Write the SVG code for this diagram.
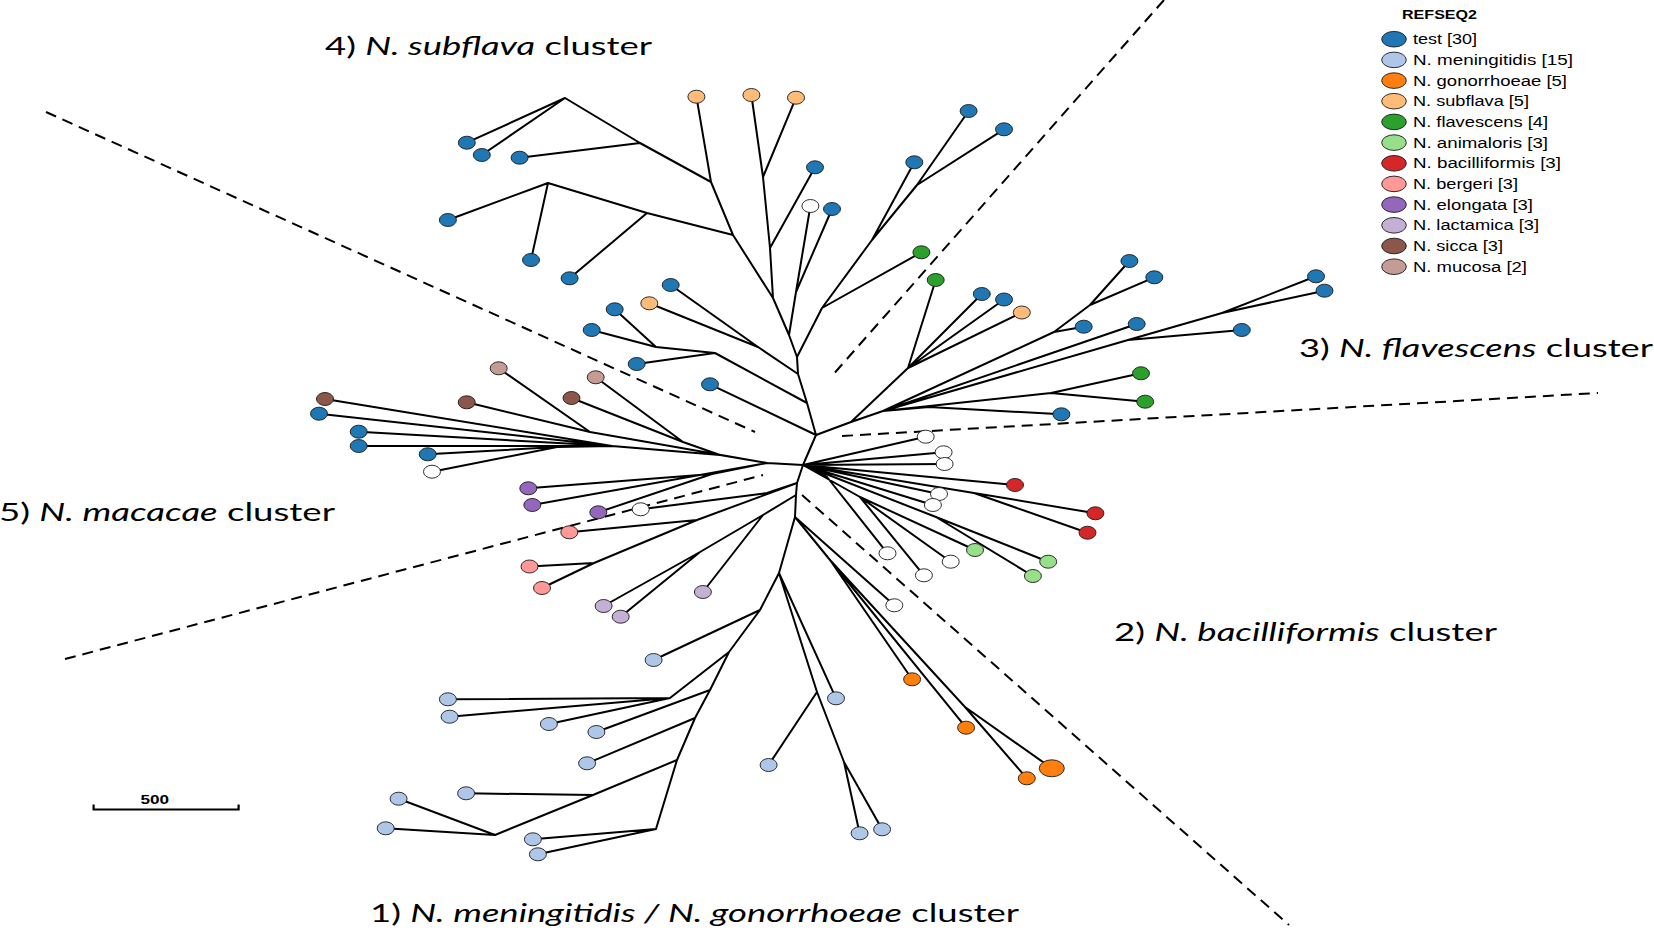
<svg xmlns="http://www.w3.org/2000/svg" width="1654" height="931" viewBox="0 0 1654 931">
<style>
.e{fill:none;stroke:#000;stroke-width:2;stroke-linejoin:round;stroke-linecap:round}
.d{fill:none;stroke:#000;stroke-width:2;stroke-dasharray:11 7}
ellipse{stroke:#1a1a1a;stroke-width:0.9}
.t{fill:#1f77b4}.me{fill:#aec7e8}.go{fill:#ff7f0e}.su{fill:#ffbb78}.fl{fill:#2ca02c}.an{fill:#98df8a}
.ba{fill:#d62728}.be{fill:#ff9896}.el{fill:#9467bd}.la{fill:#c5b0d5}.si{fill:#8c564b}.mu{fill:#c49c94}.w{fill:#fff}
.lab{font-family:Lato,"Liberation Sans",sans-serif;font-size:25px;fill:#000}
.lg{font-family:"Liberation Sans",Arial,sans-serif;font-size:14px;fill:#000}
.i{font-style:italic}
</style>
<defs>
<ellipse id="nd" cx="0" cy="0" rx="8.5" ry="6.5"/>
</defs>
<rect width="1654" height="931" fill="#fff"/>
<g id="dividers">
<path class="d" d="M46,112 L755,432"/>
<path class="d" d="M1164,0 L831,377"/>
<path class="d" d="M842,436 L1598,393"/>
<path class="d" d="M802,495 L1289,925"/>
<path class="d" d="M65,659 L763,475"/>
</g>
<g id="connectors">
<path class="e" d="M466.8,142.7 L565,98 M481.8,155 L565,98 M565,98 L640,143 L711,182 M519.6,157.7 L640,143 M696.4,96.7 L711,182 M711,182 L733,235 M447.9,220 L548,183 M531,260 L548,183 M548,183 L647,213 L733,235 M569.6,278.3 L647,213 M733,235 L773,298 M751.4,95 L763,177 M796,97.7 L763,177 M763,177 L770,248 L773,298 M815,167.3 L770,248 M773,298 L789,335 M810.4,206 L796,292 L789,335 M832,209 L796,292 M789,335 L797,357 L798,374 L807,403 L816,435 M968.6,111 L917,185 M1004,129.3 L917,185 M917,185 L872,240 L822,308 L797,357 M914.3,162.3 L872,240 M921.4,252.3 L822,308 M670.7,285 L758,347 L798,374 M649.3,303.3 L758,347 M614.7,309.3 L656,347 M591.7,330 L656,347 M656,347 L715,353 L807,403 M636.7,364 L715,353 M710,384.3 L816,435 M816,435 L803,465"/>
<path class="e" d="M816,435 L851,422 L908,368 M935.7,280 L908,368 M981.8,294 L908,368 M1004,299.5 L908,368 M1021.8,312.5 L908,368 M851,422 L883,411 M883,411 L1054,332 L1090,305 M1083.7,326.7 L1054,332 M1129.4,261 L1090,305 M1154.3,277.3 L1090,305 M883,411 L1136.7,324 M883,411 L1128,340 L1222,313 M1241.8,330 L1128,340 M1316,276.3 L1222,313 M1324.5,290.7 L1222,313 M883,411 L1051,393 M1141,373.3 L1051,393 M1145.2,401.7 L1051,393 M883,411 L929,407 L1061.4,414.3"/>
<path class="e" d="M803,465 L925.7,436.7 M803,465 L943.6,452.3 M803,465 L944.6,464 M803,465 L1015,485 M803,465 L939,494 M803,465 L932.9,505 M803,465 L974,493 M974,493 L1095.4,513.3 M974,493 L1087.5,532.7 M803,465 L860,497 M860,497 L923.9,575.3 M860,497 L950.7,561.7 M860,497 L975,550 M803,465 L936,517 M936,517 L1048.2,561.7 M936,517 L1032.9,576 M803,465 L827,477 L887.5,553.3"/>
<path class="e" d="M803,465 L797,483 L796,495 L795,517 L779,573 L760,610 L729,652 L710,690 L695,718 L677,760 L656,829 M795,517 L894.3,605.3 M795,517 L830,560 M830,560 L912.1,679.3 M830,560 L966.1,727.7 M830,560 L965,707 M965,707 L1026.8,778.3 M965,707 L1051.8,768.3 M779,573 L836,698.3 M779,573 L817,692 M817,692 L768.6,765 M817,692 L844,762 M844,762 L859.6,833.3 M844,762 L882.1,829.3 M760,610 L653.6,660 M729,652 L670,698 M670,698 L548.9,724 M670,698 L447.9,699.3 M670,698 L449.6,716.7 M710,690 L596.4,732 M695,718 L587.1,763.3 M677,760 L593,795 M593,795 L466.1,793.3 M593,795 L495,835 M495,835 L398.6,798.7 M495,835 L385.7,828.3 M656,829 L532.9,839.3 M656,829 L537.9,854.3 M796,495 L763,515 M763,515 L702.9,592 M763,515 L700,552 M700,552 L603.6,606 M700,552 L620.7,616.7"/>
<path class="e" d="M325,399 L612,446 M319,413.7 L612,446 M358.7,431.7 L612,446 M358.7,446 L612,446 M427.7,454.3 L557,447 M432,471.7 L557,447 M557,447 L612,446 M612,446 L720,455 M466.7,402.3 L590,432 M498.7,368.3 L590,432 M590,432 L767,463 M571.5,398 L683,442 M595.7,377.3 L683,442 M683,442 L720,455 M720,455 L767,463 L803,465 M528.3,488.3 L712,474 M598.3,512.3 L712,474 M712,474 L767,463 M532.3,505 L767,463 M640.7,509.3 L767,493 L797,483 M569.3,532.3 L697,520 M529.5,566.5 L594,563 M542,588 L594,563 M594,563 L697,520 M697,520 L797,483"/>
</g>
<g id="nodes">
<g id="n01"><use href="#nd" class="t" x="466.8" y="142.7"/></g>
<g id="n02"><use href="#nd" class="t" x="481.8" y="155"/></g>
<g id="n03"><use href="#nd" class="t" x="519.6" y="157.7"/></g>
<g id="n04"><use href="#nd" class="t" x="447.9" y="220"/></g>
<g id="n05"><use href="#nd" class="t" x="531" y="260"/></g>
<g id="n06"><use href="#nd" class="t" x="569.6" y="278.3"/></g>
<g id="n07"><use href="#nd" class="su" x="696.4" y="96.7"/></g>
<g id="n08"><use href="#nd" class="su" x="751.4" y="95"/></g>
<g id="n09"><use href="#nd" class="su" x="796" y="97.7"/></g>
<g id="n10"><use href="#nd" class="t" x="815" y="167.3"/></g>
<g id="n11"><use href="#nd" class="w" x="810.4" y="206"/></g>
<g id="n12"><use href="#nd" class="t" x="832" y="209"/></g>
<g id="n13"><use href="#nd" class="t" x="968.6" y="111"/></g>
<g id="n14"><use href="#nd" class="t" x="1004" y="129.3"/></g>
<g id="n15"><use href="#nd" class="t" x="914.3" y="162.3"/></g>
<g id="n16"><use href="#nd" class="fl" x="921.4" y="252.3"/></g>
<g id="n17"><use href="#nd" class="fl" x="935.7" y="280"/></g>
<g id="n18"><use href="#nd" class="t" x="670.7" y="285"/></g>
<g id="n19"><use href="#nd" class="su" x="649.3" y="303.3"/></g>
<g id="n20"><use href="#nd" class="t" x="614.7" y="309.3"/></g>
<g id="n21"><use href="#nd" class="t" x="591.7" y="330"/></g>
<g id="n22"><use href="#nd" class="t" x="636.7" y="364"/></g>
<g id="n23"><use href="#nd" class="t" x="710" y="384.3"/></g>
<g id="n24"><use href="#nd" class="t" x="981.8" y="294"/></g>
<g id="n25"><use href="#nd" class="t" x="1004" y="299.5"/></g>
<g id="n26"><use href="#nd" class="su" x="1021.8" y="312.5"/></g>
<g id="n27"><use href="#nd" class="t" x="1129.4" y="261"/></g>
<g id="n28"><use href="#nd" class="t" x="1154.3" y="277.3"/></g>
<g id="n29"><use href="#nd" class="t" x="1083.7" y="326.7"/></g>
<g id="n30"><use href="#nd" class="t" x="1136.7" y="324"/></g>
<g id="n31"><use href="#nd" class="t" x="1241.8" y="330"/></g>
<g id="n32"><use href="#nd" class="t" x="1316" y="276.3"/></g>
<g id="n33"><use href="#nd" class="t" x="1324.5" y="290.7"/></g>
<g id="n34"><use href="#nd" class="fl" x="1141" y="373.3"/></g>
<g id="n35"><use href="#nd" class="fl" x="1145.2" y="401.7"/></g>
<g id="n36"><use href="#nd" class="t" x="1061.4" y="414.3"/></g>
<g id="n37"><use href="#nd" class="w" x="925.7" y="436.7"/></g>
<g id="n38"><use href="#nd" class="w" x="943.6" y="452.3"/></g>
<g id="n39"><use href="#nd" class="w" x="944.6" y="464"/></g>
<g id="n40"><use href="#nd" class="ba" x="1015" y="485"/></g>
<g id="n41"><use href="#nd" class="w" x="939" y="494"/></g>
<g id="n42"><use href="#nd" class="w" x="932.9" y="505"/></g>
<g id="n43"><use href="#nd" class="ba" x="1095.4" y="513.3"/></g>
<g id="n44"><use href="#nd" class="ba" x="1087.5" y="532.7"/></g>
<g id="n45"><use href="#nd" class="an" x="975" y="550"/></g>
<g id="n46"><use href="#nd" class="w" x="950.7" y="561.7"/></g>
<g id="n47"><use href="#nd" class="w" x="887.5" y="553.3"/></g>
<g id="n48"><use href="#nd" class="an" x="1048.2" y="561.7"/></g>
<g id="n49"><use href="#nd" class="an" x="1032.9" y="576"/></g>
<g id="n50"><use href="#nd" class="w" x="923.9" y="575.3"/></g>
<g id="n51"><use href="#nd" class="w" x="894.3" y="605.3"/></g>
<g id="n52"><use href="#nd" class="go" x="912.1" y="679.3"/></g>
<g id="n53"><use href="#nd" class="go" x="966.1" y="727.7"/></g>
<g id="n54"><use href="#nd" class="go" x="1026.8" y="778.3"/></g>
<g id="n55"><ellipse class="go" cx="1051.8" cy="768.3" rx="12.5" ry="8.5"/></g>
<g id="n56"><use href="#nd" class="me" x="836" y="698.3"/></g>
<g id="n57"><use href="#nd" class="me" x="768.6" y="765"/></g>
<g id="n58"><use href="#nd" class="me" x="859.6" y="833.3"/></g>
<g id="n59"><use href="#nd" class="me" x="882.1" y="829.3"/></g>
<g id="n60"><use href="#nd" class="me" x="653.6" y="660"/></g>
<g id="n61"><use href="#nd" class="me" x="548.9" y="724"/></g>
<g id="n62"><use href="#nd" class="me" x="596.4" y="732"/></g>
<g id="n63"><use href="#nd" class="me" x="587.1" y="763.3"/></g>
<g id="n64"><use href="#nd" class="me" x="447.9" y="699.3"/></g>
<g id="n65"><use href="#nd" class="me" x="449.6" y="716.7"/></g>
<g id="n66"><use href="#nd" class="me" x="466.1" y="793.3"/></g>
<g id="n67"><use href="#nd" class="me" x="398.6" y="798.7"/></g>
<g id="n68"><use href="#nd" class="me" x="385.7" y="828.3"/></g>
<g id="n69"><use href="#nd" class="me" x="532.9" y="839.3"/></g>
<g id="n70"><use href="#nd" class="me" x="537.9" y="854.3"/></g>
<g id="n71"><use href="#nd" class="la" x="603.6" y="606"/></g>
<g id="n72"><use href="#nd" class="la" x="620.7" y="616.7"/></g>
<g id="n73"><use href="#nd" class="la" x="702.9" y="592"/></g>
<g id="n74"><use href="#nd" class="si" x="325" y="399"/></g>
<g id="n75"><use href="#nd" class="t" x="319" y="413.7"/></g>
<g id="n76"><use href="#nd" class="t" x="358.7" y="431.7"/></g>
<g id="n77"><use href="#nd" class="t" x="358.7" y="446"/></g>
<g id="n78"><use href="#nd" class="t" x="427.7" y="454.3"/></g>
<g id="n79"><use href="#nd" class="w" x="432" y="471.7"/></g>
<g id="n80"><use href="#nd" class="si" x="466.7" y="402.3"/></g>
<g id="n81"><use href="#nd" class="mu" x="498.7" y="368.3"/></g>
<g id="n82"><use href="#nd" class="si" x="571.5" y="398"/></g>
<g id="n83"><use href="#nd" class="mu" x="595.7" y="377.3"/></g>
<g id="n84"><use href="#nd" class="el" x="528.3" y="488.3"/></g>
<g id="n85"><use href="#nd" class="el" x="532.3" y="505"/></g>
<g id="n86"><use href="#nd" class="el" x="598.3" y="512.3"/></g>
<g id="n87"><use href="#nd" class="w" x="640.7" y="509.3"/></g>
<g id="n88"><use href="#nd" class="be" x="569.3" y="532.3"/></g>
<g id="n89"><use href="#nd" class="be" x="529.5" y="566.5"/></g>
<g id="n90"><use href="#nd" class="be" x="542" y="588"/></g>
</g>
<g id="labels">
<text class="lab" x="325" y="55" textLength="327" lengthAdjust="spacingAndGlyphs">4) <tspan class="i">N. subflava</tspan> cluster</text>
<text class="lab" x="1299" y="357" textLength="354" lengthAdjust="spacingAndGlyphs">3) <tspan class="i">N. flavescens</tspan> cluster</text>
<text class="lab" x="-1" y="521" textLength="336" lengthAdjust="spacingAndGlyphs">5) <tspan class="i">N. macacae</tspan> cluster</text>
<text class="lab" x="1114" y="640.5" textLength="383" lengthAdjust="spacingAndGlyphs">2) <tspan class="i">N. bacilliformis</tspan> cluster</text>
<text class="lab" x="370" y="922" textLength="649" lengthAdjust="spacingAndGlyphs">1) <tspan class="i">N. meningitidis / N. gonorrhoeae</tspan> cluster</text>
</g>
<g id="scalebar">
<path d="M93.6,804.5 V809.5 H238.6 V804.5" fill="none" stroke="#000" stroke-width="2.2"/>
<text x="140.5" y="804" font-family="Liberation Sans,Arial,sans-serif" font-size="13" font-weight="bold" textLength="28.6" lengthAdjust="spacingAndGlyphs">500</text>
</g>
<g id="legend">
<text x="1402" y="19.3" font-family="Liberation Sans,Arial,sans-serif" font-size="13" font-weight="bold" textLength="75" lengthAdjust="spacingAndGlyphs">REFSEQ2</text>
<g id="lg01"><ellipse class="t" cx="1394" cy="39.2" rx="12.3" ry="7.8"/><text class="lg" x="1413" y="44.2" textLength="64" lengthAdjust="spacingAndGlyphs">test [30]</text></g>
<g id="lg02"><ellipse class="me" cx="1394" cy="59.9" rx="12.3" ry="7.8"/><text class="lg" x="1413" y="64.9" textLength="160" lengthAdjust="spacingAndGlyphs">N. meningitidis [15]</text></g>
<g id="lg03"><ellipse class="go" cx="1394" cy="80.6" rx="12.3" ry="7.8"/><text class="lg" x="1413" y="85.6" textLength="154" lengthAdjust="spacingAndGlyphs">N. gonorrhoeae [5]</text></g>
<g id="lg04"><ellipse class="su" cx="1394" cy="101.2" rx="12.3" ry="7.8"/><text class="lg" x="1413" y="106.2" textLength="116" lengthAdjust="spacingAndGlyphs">N. subflava [5]</text></g>
<g id="lg05"><ellipse class="fl" cx="1394" cy="121.9" rx="12.3" ry="7.8"/><text class="lg" x="1413" y="126.9" textLength="135" lengthAdjust="spacingAndGlyphs">N. flavescens [4]</text></g>
<g id="lg06"><ellipse class="an" cx="1394" cy="142.6" rx="12.3" ry="7.8"/><text class="lg" x="1413" y="147.6" textLength="135" lengthAdjust="spacingAndGlyphs">N. animaloris [3]</text></g>
<g id="lg07"><ellipse class="ba" cx="1394" cy="163.3" rx="12.3" ry="7.8"/><text class="lg" x="1413" y="168.3" textLength="148" lengthAdjust="spacingAndGlyphs">N. bacilliformis [3]</text></g>
<g id="lg08"><ellipse class="be" cx="1394" cy="183.9" rx="12.3" ry="7.8"/><text class="lg" x="1413" y="188.9" textLength="105" lengthAdjust="spacingAndGlyphs">N. bergeri [3]</text></g>
<g id="lg09"><ellipse class="el" cx="1394" cy="204.6" rx="12.3" ry="7.8"/><text class="lg" x="1413" y="209.6" textLength="120" lengthAdjust="spacingAndGlyphs">N. elongata [3]</text></g>
<g id="lg10"><ellipse class="la" cx="1394" cy="225.3" rx="12.3" ry="7.8"/><text class="lg" x="1413" y="230.3" textLength="126" lengthAdjust="spacingAndGlyphs">N. lactamica [3]</text></g>
<g id="lg11"><ellipse class="si" cx="1394" cy="246" rx="12.3" ry="7.8"/><text class="lg" x="1413" y="251" textLength="90" lengthAdjust="spacingAndGlyphs">N. sicca [3]</text></g>
<g id="lg12"><ellipse class="mu" cx="1394" cy="266.7" rx="12.3" ry="7.8"/><text class="lg" x="1413" y="271.7" textLength="114" lengthAdjust="spacingAndGlyphs">N. mucosa [2]</text></g>
</g>
</svg>
